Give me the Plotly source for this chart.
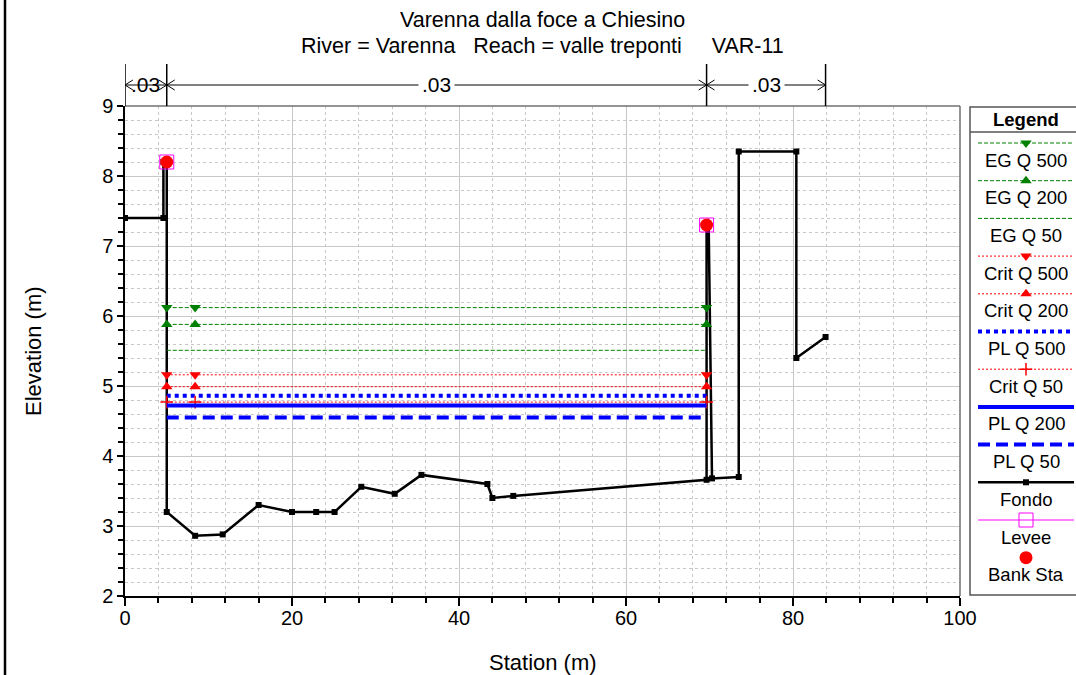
import plotly.graph_objects as go

# ---------------- data ----------------
station = [0.0, 4.6, 4.6, 5.0, 5.0, 8.4, 11.7, 16.0, 20.0, 22.9, 25.1, 28.3, 32.3, 35.5,
           43.4, 44.0, 46.5, 69.65, 69.65, 69.9, 70.3, 73.5, 73.5, 80.4, 80.4, 83.9]
elevation = [7.4, 7.4, 8.2, 8.2, 3.2, 2.86, 2.88, 3.3, 3.2, 3.2, 3.2, 3.56, 3.46, 3.73,
             3.6, 3.4, 3.43, 3.66, 7.3, 7.3, 3.68, 3.7, 8.35, 8.35, 5.4, 5.7]

bank_sta = [5.0, 69.65]
bank_elev = [8.2, 7.3]
levee_sta = [5.0, 69.65]
levee_elev = [8.2, 7.3]

ws_sta = [5.0, 8.4, 69.65]
ws_names = ["EG Q 500", "EG Q 200", "EG Q 50", "Crit Q 500", "Crit Q 200",
            "PL Q 500", "Crit Q 50", "PL Q 200", "PL Q 50"]
ws_elev = [6.12, 5.88, 5.51, 5.16, 4.99, 4.86, 4.77, 4.72, 4.55]

n_break_sta = [0.0, 5.0, 69.65, 83.9]
n_values = [".03", ".03", ".03"]

x_tick_vals = [0, 20, 40, 60, 80, 100]
y_tick_vals = [2, 3, 4, 5, 6, 7, 8, 9]

title_line1 = "Varenna dalla foce a Chiesino"
title_line2 = "River = Varenna\u00a0\u00a0\u00a0Reach = valle treponti\u00a0\u00a0\u00a0\u00a0\u00a0VAR-11"

# ---------------- styles ----------------
FONT = "Liberation Sans, Arial, sans-serif"
GREEN = "#008000"
RED = "#ff0000"
BLUE = "#0000ff"
TICK_FS = 20
TITLE_FS = 21.5
AXT_FS = 22
LEG_FS = 18.5

ws_style = {
    "EG Q 500": dict(line=dict(color=GREEN, width=1, dash="4px,2px"), symbol="triangle-down", mcolor=GREEN, size=10),
    "EG Q 200": dict(line=dict(color=GREEN, width=1, dash="4px,2px"), symbol="triangle-up", mcolor=GREEN, size=10),
    "EG Q 50": dict(line=dict(color=GREEN, width=1, dash="4px,2px"), symbol=None),
    "Crit Q 500": dict(line=dict(color=RED, width=1, dash="2px,2px"), symbol="triangle-down", mcolor=RED, size=10),
    "Crit Q 200": dict(line=dict(color=RED, width=1, dash="2px,2px"), symbol="triangle-up", mcolor=RED, size=10),
    "PL Q 500": dict(line=dict(color=BLUE, width=4, dash="4px,4px"), symbol=None),
    "Crit Q 50": dict(line=dict(color=RED, width=1, dash="2px,2px"), symbol="cross-thin", mcolor=RED, size=9),
    "PL Q 200": dict(line=dict(color=BLUE, width=4), symbol=None),
    "PL Q 50": dict(line=dict(color=BLUE, width=4, dash="12px,6px"), symbol=None),
}


def marker_for(st):
    if st["symbol"] is None:
        return None
    m = dict(symbol=st["symbol"], size=st["size"], color=st["mcolor"])
    if st["symbol"] == "cross-thin":
        m["line"] = dict(color=st["mcolor"], width=1.5)
    return m


fig = go.Figure()

# ground
fig.add_trace(go.Scatter(x=station, y=elevation, mode="lines+markers",
                         line=dict(color="black", width=2.5),
                         marker=dict(symbol="square", size=6, color="black"),
                         name="Fondo", showlegend=False))

# water surfaces
for name, elev in zip(ws_names, ws_elev):
    st = ws_style[name]
    m = marker_for(st)
    fig.add_trace(go.Scatter(x=ws_sta, y=[elev] * len(ws_sta),
                             mode="lines+markers" if m else "lines",
                             line=st["line"], marker=m, name=name, showlegend=False))

# levee and bank stations
fig.add_trace(go.Scatter(x=levee_sta, y=levee_elev, mode="markers",
                         marker=dict(symbol="square-open", size=14, color="#ff00ff",
                                     line=dict(width=1, color="#ff00ff")),
                         name="Levee", showlegend=False))
fig.add_trace(go.Scatter(x=bank_sta, y=bank_elev, mode="markers",
                         marker=dict(symbol="circle", size=13, color=RED),
                         name="Bank Sta", showlegend=False))

# ---------------- custom legend (pixel-like axes) ----------------
LX0, LX1, LXC = 978, 1074, 1026
legend_items = ws_names + ["Fondo", "Levee", "Bank Sta"]
for i, name in enumerate(legend_items):
    ly = 143 + 37.7 * i
    ty = ly + 17
    if name in ws_style:
        st = ws_style[name]
        fig.add_trace(go.Scatter(x=[LX0, LX1], y=[ly, ly], mode="lines", line=st["line"],
                                 xaxis="x2", yaxis="y2", showlegend=False, hoverinfo="skip"))
        m = marker_for(st)
        if m:
            fig.add_trace(go.Scatter(x=[LXC], y=[ly], mode="markers", marker=m,
                                     xaxis="x2", yaxis="y2", showlegend=False, hoverinfo="skip"))
    elif name == "Fondo":
        fig.add_trace(go.Scatter(x=[LX0, LXC, LX1], y=[ly, ly, ly], mode="lines",
                                 line=dict(color="black", width=2.5),
                                 xaxis="x2", yaxis="y2", showlegend=False, hoverinfo="skip"))
        fig.add_trace(go.Scatter(x=[LXC], y=[ly], mode="markers",
                                 marker=dict(symbol="square", size=6, color="black"),
                                 xaxis="x2", yaxis="y2", showlegend=False, hoverinfo="skip"))
    elif name == "Levee":
        fig.add_trace(go.Scatter(x=[LX0, LX1], y=[ly, ly], mode="lines",
                                 line=dict(color="#ff00ff", width=1),
                                 xaxis="x2", yaxis="y2", showlegend=False, hoverinfo="skip"))
        fig.add_trace(go.Scatter(x=[LXC], y=[ly], mode="markers",
                                 marker=dict(symbol="square-open", size=14, color="#ff00ff",
                                             line=dict(width=1, color="#ff00ff")),
                                 xaxis="x2", yaxis="y2", showlegend=False, hoverinfo="skip"))
    else:
        fig.add_trace(go.Scatter(x=[LXC], y=[ly], mode="markers",
                                 marker=dict(symbol="circle", size=13, color=RED),
                                 xaxis="x2", yaxis="y2", showlegend=False, hoverinfo="skip"))
    fig.add_annotation(x=LXC, y=ty, xref="x2", yref="y2", text=name, showarrow=False,
                       font=dict(family=FONT, size=LEG_FS, color="black"),
                       xanchor="center", yanchor="middle")

fig.add_annotation(x=LXC, y=119, xref="x2", yref="y2", text="<b>Legend</b>", showarrow=False,
                   font=dict(family=FONT, size=LEG_FS, color="black"), xanchor="center", yanchor="middle")

shapes = []
shapes.append(dict(type="rect", xref="x2", yref="y2", x0=970, x1=1100, y0=107, y1=595,
                   line=dict(color="#555555", width=1.5), layer="below"))
shapes.append(dict(type="line", xref="x2", yref="y2", x0=970, x1=1100, y0=132, y1=132,
                   line=dict(color="#555555", width=1.5)))

# ---------------- layout ----------------
W, H = 1076, 675
ML, MR, MT, MB = 125, 0, 106, 79
pw = W - ML - MR
ph = H - MT - MB
main_dom = (960 - ML) / pw


def py(pix):  # pixel y -> paper
    return (H - MB - pix) / ph


def px(pix):  # pixel x -> paper
    return (pix - ML) / pw


# plot frame top / right
shapes.append(dict(type="line", xref="x domain", yref="y domain", x0=0, x1=1, y0=1, y1=1,
                   line=dict(color="#707070", width=1.5)))
shapes.append(dict(type="line", xref="x domain", yref="y domain", x0=1, x1=1, y0=0, y1=1,
                   line=dict(color="#707070", width=1.5)))

# left image border
shapes.append(dict(type="line", xref="paper", yref="paper", x0=px(5), x1=px(5),
                   y0=py(H), y1=py(0), line=dict(color="black", width=2.5)))

# Manning's n zone markers
y_arrow = py(85)
y_top = py(64)
dx = 0.95   # chevron length (m)
dy = 5.0 / ph
for b in n_break_sta:
    shapes.append(dict(type="line", xref="x", yref="paper", x0=b, x1=b, y0=1, y1=y_top,
                       line=dict(color="black", width=1.5)))
for a, b, nv in zip(n_break_sta[:-1], n_break_sta[1:], n_values):
    shapes.append(dict(type="line", xref="x", yref="paper", x0=a, x1=b, y0=y_arrow, y1=y_arrow,
                       line=dict(color="black", width=1)))
    shapes.append(dict(type="path", xref="x", yref="paper",
                       path=f"M {a + dx},{y_arrow + dy} L {a},{y_arrow} L {a + dx},{y_arrow - dy}",
                       line=dict(color="black", width=1)))
    shapes.append(dict(type="path", xref="x", yref="paper",
                       path=f"M {b - dx},{y_arrow + dy} L {b},{y_arrow} L {b - dx},{y_arrow - dy}",
                       line=dict(color="black", width=1)))
    wide = (b - a) * 8.35 > 60
    fig.add_annotation(x=(a + b) / 2, y=y_arrow, xref="x", yref="paper", text=nv, showarrow=False,
                       font=dict(family=FONT, size=21, color="black"),
                       bgcolor="white" if wide else "rgba(0,0,0,0)", borderpad=3 if wide else 0,
                       xanchor="center", yanchor="middle")

# titles
fig.add_annotation(x=main_dom / 2, y=py(20), xref="paper", yref="paper", text=title_line1,
                   showarrow=False, font=dict(family=FONT, size=TITLE_FS, color="black"),
                   xanchor="center", yanchor="middle")
fig.add_annotation(x=main_dom / 2, y=py(46), xref="paper", yref="paper", text=title_line2,
                   showarrow=False, font=dict(family=FONT, size=TITLE_FS, color="black"),
                   xanchor="center", yanchor="middle")
# axis titles
fig.add_annotation(x=main_dom / 2, y=py(662), xref="paper", yref="paper", text="Station (m)",
                   showarrow=False, font=dict(family=FONT, size=AXT_FS, color="black"),
                   xanchor="center", yanchor="middle")
fig.add_annotation(x=px(33), y=py(351), xref="paper", yref="paper", text="Elevation (m)",
                   textangle=-90, showarrow=False, font=dict(family=FONT, size=AXT_FS, color="black"),
                   xanchor="center", yanchor="middle")

GRID = "#c8c8c8"
fig.update_layout(
    template="none",
    width=W, height=H, autosize=False,
    margin=dict(l=ML, r=MR, t=MT, b=MB, autoexpand=False),
    paper_bgcolor="white", plot_bgcolor="white",
    font=dict(family=FONT, size=TICK_FS, color="black"),
    showlegend=False,
    shapes=shapes,
    xaxis=dict(domain=[0, main_dom], range=[0, 100], tickvals=x_tick_vals, automargin=False,
               ticks="outside", ticklen=8, tickwidth=1.5, tickcolor="black",
               showline=True, linecolor="black", linewidth=1.5,
               showgrid=True, gridcolor=GRID, gridwidth=1, zeroline=False,
               ticklabelstandoff=-5,
               tickfont=dict(family=FONT, size=TICK_FS, color="black"),
               minor=dict(dtick=4, ticks="outside", ticklen=5, tickcolor="black",
                          showgrid=True, gridcolor=GRID, griddash="3px,3px", gridwidth=1)),
    yaxis=dict(range=[2, 9], tickvals=y_tick_vals, automargin=False,
               ticks="outside", ticklen=6, tickwidth=1.5, tickcolor="black",
               showline=True, linecolor="black", linewidth=1.5,
               showgrid=True, gridcolor=GRID, gridwidth=1, zeroline=False,
               tickfont=dict(family=FONT, size=TICK_FS, color="black"),
               minor=dict(dtick=0.2, ticks="outside", ticklen=5, tickcolor="black",
                          showgrid=True, gridcolor=GRID, griddash="3px,3px", gridwidth=1)),
    xaxis2=dict(domain=[px(968), 1], range=[968, 1076], anchor="y2", visible=False,
                fixedrange=True, automargin=False),
    yaxis2=dict(domain=[0, 1], range=[596, 106], anchor="x2", visible=False,
                fixedrange=True, automargin=False),
)

fig.write_html("out.html",
               config={"responsive": False, "displayModeBar": False},
               post_script="document.body.style.margin='0px';document.body.style.overflow='hidden';")
